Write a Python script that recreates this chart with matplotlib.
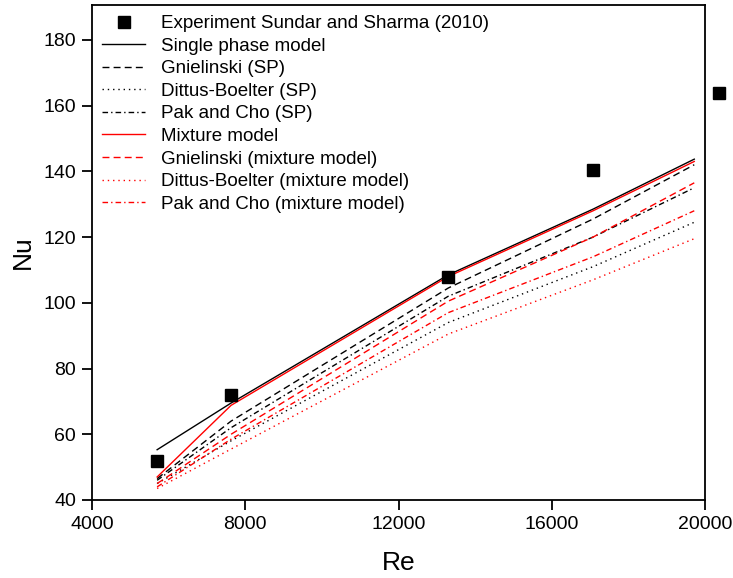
import matplotlib.pyplot as plt
from matplotlib.lines import Line2D

plt.rcParams['font.family'] = ['Liberation Sans', 'DejaVu Sans']

# ============================================
# DATA
# ============================================

re_exp = [5700, 7630, 13300, 17080, 20370]
nu_exp = [52.0, 72.0, 107.7, 140.3, 163.8]

re_model = [5700, 7630, 13300, 17080, 19720]
nu_single = [55.3, 69.5, 108.5, 128.5, 143.7]
nu_gniel_sp = [46.5, 64.0, 104.5, 125.5, 142.0]
nu_dittus_sp = [45.0, 58.0, 94.0, 111.0, 124.5]
nu_pak_sp = [46.0, 62.0, 102.0, 120.0, 135.0]
nu_mixture = [47.0, 68.8, 108.0, 128.0, 143.0]
nu_gniel_mix = [45.0, 60.0, 100.5, 120.0, 136.5]
nu_dittus_mix = [43.5, 55.5, 90.5, 107.0, 119.5]
nu_pak_mix = [44.0, 58.5, 97.0, 114.0, 128.0]

labels = [
    'Experiment Sundar and Sharma (2010)',
    'Single phase model',
    'Gnielinski (SP)',
    'Dittus-Boelter (SP)',
    'Pak and Cho (SP)',
    'Mixture model',
    'Gnielinski (mixture model)',
    'Dittus-Boelter (mixture model)',
    'Pak and Cho (mixture model)',
]

# ============================================
# STYLE
# ============================================

DASHED = (0, (5, 3))
DOTTED = (0, (1, 2.8))
DASHDOT = (0, (4, 2.2, 1, 2.2))
LW = 1.0

fig = plt.figure(figsize=(7.33, 5.78), dpi=100)
ax = fig.add_axes([92 / 733, 78 / 578, 613 / 733, 495 / 578])

series = [
    (nu_single, 'black', '-'),
    (nu_gniel_sp, 'black', DASHED),
    (nu_dittus_sp, 'black', DOTTED),
    (nu_pak_sp, 'black', DASHDOT),
    (nu_mixture, 'red', '-'),
    (nu_gniel_mix, 'red', DASHED),
    (nu_dittus_mix, 'red', DOTTED),
    (nu_pak_mix, 'red', DASHDOT),
]

handles = [Line2D([], [], marker='s', color='black', linestyle='none', markersize=8.5)]
for vals, col, ls in series:
    ax.plot(re_model, vals, color=col, linestyle=ls, linewidth=LW)
    handles.append(Line2D([], [], color=col, linestyle=ls, linewidth=LW))

# last experimental point sits just outside the right spine
ax.plot(re_exp, nu_exp, 's', color='black', markersize=8.5, clip_on=False, zorder=5)

ax.set_xlim(4000, 20000)
ax.set_ylim(40, 190.6)
ax.set_xticks([4000, 8000, 12000, 16000, 20000])
ax.set_yticks([40, 60, 80, 100, 120, 140, 160, 180])

for s in ax.spines.values():
    s.set_linewidth(1.3)
ax.tick_params(direction='out', length=7, width=1.3, labelsize=14, pad=4.5)

ax.set_xlabel('Re', fontsize=19, labelpad=13)
ax.set_ylabel('Nu', fontsize=19, labelpad=6)

ax.legend(handles, labels, loc='upper left', bbox_to_anchor=(102 / 733, 1 - 15 / 578),
          bbox_transform=fig.transFigure, frameon=False, fontsize=13.5,
          handlelength=2.3, handletextpad=0.85, labelspacing=0.29, borderaxespad=0,
          borderpad=0)

plt.savefig('out.png', dpi=100, facecolor='white')
